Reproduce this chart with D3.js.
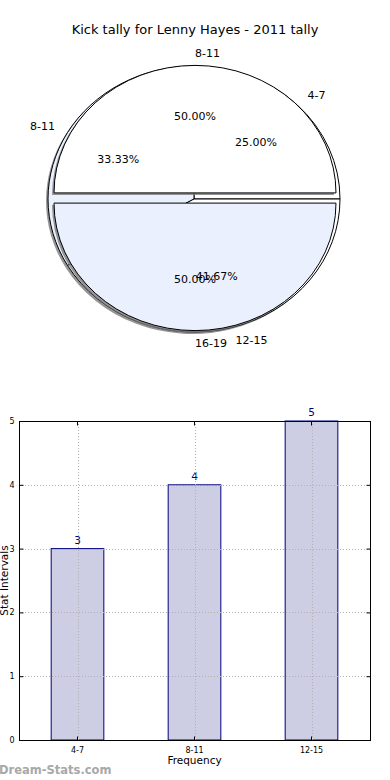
<!DOCTYPE html>
<html>
<head>
<meta charset="utf-8">
<script src="https://cdn.jsdelivr.net/npm/d3@7"></script>
<style>
  body { margin: 0; background: #fff; }
  text { font-family: "DejaVu Sans", sans-serif; }
</style>
</head>
<body>
<div id="chart"></div>
<script>
// data
var title = "Kick tally for Lenny Hayes - 2011 tally";
var pieLabels1 = ["4-7", "8-11", "12-15"];
var pieValues1 = [3, 4, 5];
var pieLabels2 = ["8-11", "16-19"];
var pieValues2 = [1, 1];
var barLabels = ["4-7", "8-11", "12-15"];
var barValues = [3, 4, 5];
var yTicks = [0, 1, 2, 3, 4, 5];

var W = 390, H = 780;
var svg = d3.select("#chart").append("svg")
  .attr("width", W)
  .attr("height", H);

// title
svg.append("text")
  .attr("x", 195)
  .attr("y", 34)
  .attr("text-anchor", "middle")
  .style("font-size", "13px")
  .text(title);

// ---------------------------//
//       PIE (two layers)     //
// ---------------------------//

var sliceColors = ["#ffffff", "#eaf0fd"];
var fmt = d3.format(".2f");

var wedgeLayer = svg.append("g");
var textLayer = svg.append("g");

// matplotlib style: start at 3 o'clock, go counter-clockwise
function drawPie(values, labels, opt) {
  var pie = d3.pie().sort(null)
    .startAngle(Math.PI / 2)
    .endAngle(Math.PI / 2 - 2 * Math.PI);
  var arcs = pie(values);
  var total = d3.sum(values);
  var arc = d3.arc().innerRadius(0).outerRadius(1);

  var g = wedgeLayer.append("g");

  function centre(d, i) {
    var mid = (d.startAngle + d.endAngle) / 2;
    var ex = opt.explode ? opt.explode[i] : 0;
    return [opt.cx + ex * Math.sin(mid) * opt.rx, opt.cy - ex * Math.cos(mid) * opt.ry, mid];
  }

  // shadows
  arcs.forEach(function (d, i) {
    var c = centre(d, i);
    g.append("path")
      .attr("d", arc(d))
      .attr("transform", "translate(" + (c[0] - 2) + "," + (c[1] + 2) + ") scale(" + opt.rx + "," + opt.ry + ")")
      .style("fill", "#7a7a7a")
      .style("opacity", 0.8);
  });

  // wedges
  arcs.forEach(function (d, i) {
    var c = centre(d, i);
    g.append("path")
      .attr("d", arc(d))
      .attr("transform", "translate(" + c[0] + "," + c[1] + ") scale(" + opt.rx + "," + opt.ry + ")")
      .attr("vector-effect", "non-scaling-stroke")
      .style("fill", sliceColors[i % 2])
      .style("stroke", "#000")
      .style("stroke-width", 1);
  });

  // texts go on top of everything
  arcs.forEach(function (d, i) {
    var c = centre(d, i);
    var mid = c[2];
    var sx = Math.sin(mid), sy = -Math.cos(mid);

    textLayer.append("text")
      .attr("x", c[0] + 1.1 * sx * opt.rx)
      .attr("y", c[1] + 1.1 * sy * opt.ry)
      .attr("dy", "0.35em")
      .attr("text-anchor", sx > 1e-9 || Math.abs(sx) < 1e-9 && mid < Math.PI ? "start" : "end")
      .style("font-size", "11px")
      .text(labels[i]);

    textLayer.append("text")
      .attr("x", c[0] + 0.6 * sx * opt.rx)
      .attr("y", c[1] + 0.6 * sy * opt.ry)
      .attr("dy", "0.35em")
      .attr("text-anchor", "middle")
      .style("font-size", "11px")
      .text(fmt(d.value / total * 100) + "%");
  });
}

drawPie(pieValues1, pieLabels1, { cx: 194, cy: 199, rx: 146, ry: 133 });
drawPie(pieValues2, pieLabels2, { cx: 195, cy: 198, rx: 141, ry: 127.5, explode: [0.04, 0.04] });

// ---------------------------//
//       BAR CHART            //
// ---------------------------//

var bx0 = 19, bx1 = 370, by0 = 421, by1 = 740;

var x = d3.scaleLinear().domain([-0.5, 2.5]).range([bx0, bx1]);
var y = d3.scaleLinear().domain([0, 5]).range([by1, by0]);
var barW = 0.45;

var bars = svg.append("g");

bars.selectAll("rect")
  .data(barValues)
  .enter()
  .append("rect")
  .attr("x", function (d, i) { return x(i - barW / 2); })
  .attr("y", function (d) { return y(d); })
  .attr("width", function () { return x(barW) - x(0); })
  .attr("height", function (d) { return y(0) - y(d); })
  .style("fill", "#cdcde4")
  .style("stroke", "#000080")
  .style("stroke-width", 1);

// grid (drawn over the bars, dotted)
var grid = svg.append("g")
  .style("stroke", "#b0b0b0")
  .style("stroke-dasharray", "1,2")
  .style("stroke-width", 1);
grid.selectAll(".hg")
  .data(yTicks)
  .enter()
  .append("line")
  .attr("x1", bx0).attr("x2", bx1)
  .attr("y1", function (d) { return Math.round(y(d)) + 0.5; })
  .attr("y2", function (d) { return Math.round(y(d)) + 0.5; });
grid.selectAll(".vg")
  .data(barLabels)
  .enter()
  .append("line")
  .attr("y1", by0).attr("y2", by1)
  .attr("x1", function (d, i) { return Math.round(x(i)) + 0.5; })
  .attr("x2", function (d, i) { return Math.round(x(i)) + 0.5; });

// frame
svg.append("rect")
  .attr("x", bx0 + 0.5)
  .attr("y", by0 + 0.5)
  .attr("width", bx1 - bx0)
  .attr("height", by1 - by0)
  .style("fill", "none")
  .style("stroke", "#000")
  .style("stroke-width", 1);

// y axis ticks (inside, both sides)
var yAxis = d3.axisLeft(y).tickValues(yTicks).tickSize(-4).tickPadding(5).tickFormat(d3.format("d"));
var yg = svg.append("g")
  .attr("transform", "translate(" + (bx0 + 0.5) + ",0)")
  .call(yAxis);
yg.select(".domain").remove();
yg.selectAll("text").style("font-size", "8px").style("font-family", "DejaVu Sans");

var yAxisR = d3.axisRight(y).tickValues(yTicks).tickSize(-4).tickFormat("");
var ygr = svg.append("g")
  .attr("transform", "translate(" + (bx1 + 0.5) + ",0)")
  .call(yAxisR);
ygr.select(".domain").remove();

// x axis ticks
var xb = d3.scaleBand().domain(barLabels).range([bx0, bx1]);
var xAxis = d3.axisBottom(xb).tickSize(-4).tickPadding(7);
var xg = svg.append("g")
  .attr("transform", "translate(0," + (by1 + 0.5) + ")")
  .call(xAxis);
xg.select(".domain").remove();
xg.selectAll("text").style("font-size", "8px").style("font-family", "DejaVu Sans");

var xAxisT = d3.axisTop(xb).tickSize(-4).tickFormat("");
var xgt = svg.append("g")
  .attr("transform", "translate(0," + (by0 + 0.5) + ")")
  .call(xAxisT);
xgt.select(".domain").remove();

// value labels
bars.selectAll("text")
  .data(barValues)
  .enter()
  .append("text")
  .attr("x", function (d, i) { return x(i); })
  .attr("y", function (d) { return y(d) - 5; })
  .attr("text-anchor", "middle")
  .style("font-size", "10.5px")
  .style("fill", "#000080")
  .text(function (d) { return d; });

// axis labels
svg.append("text")
  .attr("x", (bx0 + bx1) / 2)
  .attr("y", 764)
  .attr("text-anchor", "middle")
  .style("font-size", "10.5px")
  .text("Frequency");

svg.append("text")
  .attr("transform", "translate(8," + ((by0 + by1) / 2) + ") rotate(-90)")
  .attr("text-anchor", "middle")
  .style("font-size", "10.5px")
  .text("Stat Intervals");

// watermark
svg.append("text")
  .attr("x", -1)
  .attr("y", 774)
  .style("font-size", "11.5px")
  .style("font-weight", "bold")
  .style("fill", "#a8a8a8")
  .text("Dream-Stats.com");
</script>
</body>
</html>
